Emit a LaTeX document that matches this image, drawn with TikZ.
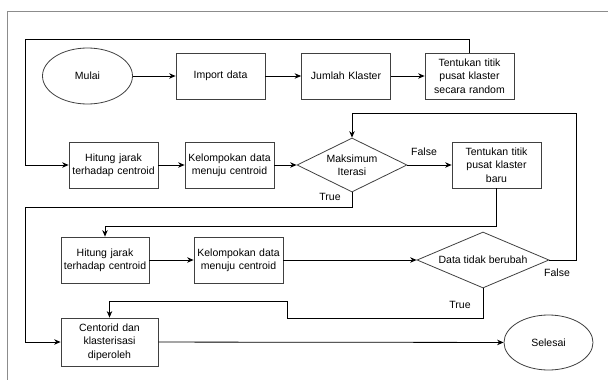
\documentclass[tikz,border=0pt]{standalone}
\usepackage{fontspec}
\setmainfont{Liberation Sans}
\usepackage{tikz}
\usetikzlibrary{arrows.meta,positioning,shapes.geometric}
\tikzset{
    %Define standard arrow tip
    >={Stealth[length=6.5pt,width=5.5pt]},
    %Define style for boxes
    proses/.style={
           rectangle,
           draw=black!75, line width=0.8pt,
           minimum width=89pt,
           minimum height=46pt,
           text width=86pt,
           inner sep=1pt,
           font=\fontsize{10.5}{13.3}\selectfont,
           align=center,
           },
    terminal/.style={
           ellipse,
           draw=black!75, line width=0.8pt,
           minimum width=90pt,
           minimum height=56pt,
           inner sep=0pt,
           font=\fontsize{10.5}{13.3}\selectfont,
           },
    keputusan/.style={
           diamond,
           draw=black!75, line width=0.8pt,
           aspect=2,
           inner sep=0pt,
           font=\fontsize{10.5}{13.3}\selectfont,
           align=center,
           },
    label/.style={
           font=\fontsize{10.5}{13.3}\selectfont,
           inner sep=0pt,
           },
    % Define arrow style
    pil/.style={
           ->,
           line width=0.8pt,
           },
    bingkai/.style={
           draw=black!45, line width=1pt,
           },
}

\begin{document}
\begin{tikzpicture}[x=1pt,y=-1pt]
\useasboundingbox (0,0) rectangle (608,380);
\draw[bingkai] (7,380) -- (7,11) -- (608,11);

 %nodes
\node[terminal] (mulai) at (87.5,76) {Mulai};
\node[proses] (impor) at (220.5,76) {Import data};
\node[proses] (jumlah) at (346,76) {Jumlah Klaster};
\node[proses] (acak) at (469.5,76) {Tentukan titik\\ pusat klaster\\ secara random};
\node[proses] (hitung1) at (113.5,165) {Hitung jarak\\ terhadap centroid};
\node[proses] (kelompok1) at (229.5,165) {Kelompokan data\\ menuju centroid};
\node[keputusan, minimum width=110pt, minimum height=54pt] (maks) at (352,165) {Maksimum\\ Iterasi};
\node[proses] (baru) at (496.5,165) {Tentukan titik\\ pusat klaster\\ baru};
\node[proses, minimum width=88pt] (hitung2) at (105,260) {Hitung jarak\\ terhadap centroid};
\node[proses] (kelompok2) at (238.5,260) {Kelompokan data\\ menuju centroid};
\node[keputusan, minimum width=132pt, minimum height=56pt] (ubah) at (483,260) {Data tidak berubah};
\node[proses, minimum width=97pt, minimum height=48pt] (hasil) at (109.5,342) {Centorid dan\\ klasterisasi\\ diperoleh};
\node[terminal, minimum width=89pt, minimum height=55pt] (selesai) at (548.5,342.5) {Selesai};

 %labels
\node[label] (f1) at (424,152) {False};
\node[label] (t1) at (330,197) {True};
\node[label] (f2) at (557,273) {False};
\node[label] (t2) at (460,305) {True};

 %bends
\coordinate (atas) at (25,39);
\coordinate (kiri) at (25,207);
\coordinate (tengah) at (105,226);
\coordinate (kanan) at (576,113);
\coordinate (lekuk) at (287,318);
\coordinate (turun) at (109.5,301);

 %edges
\draw[pil] (mulai) -- (impor);
\draw[pil] (impor) -- (jumlah);
\draw[pil] (jumlah) -- (acak);
\draw[pil] (acak.north) |- (atas) |- (hitung1.west);
\draw[pil] (hitung1) -- (kelompok1);
\draw[pil] (kelompok1) -- (maks);
\draw[pil] (maks) -- (baru);
\draw[pil] (maks.south) |- (kiri) |- (hasil.west);
\draw[pil] (baru.south) |- (tengah) -- (hitung2.north);
\draw[pil] (hitung2) -- (kelompok2);
\draw[pil] (kelompok2) -- (ubah);
\draw[pil] (ubah.east) -| (kanan) -| (maks.north);
\draw[pil] (ubah.south) |- (lekuk) |- (turun) -- (hasil.north);
\draw[pil] (hasil) -- (selesai);

\end{tikzpicture}
\end{document}
